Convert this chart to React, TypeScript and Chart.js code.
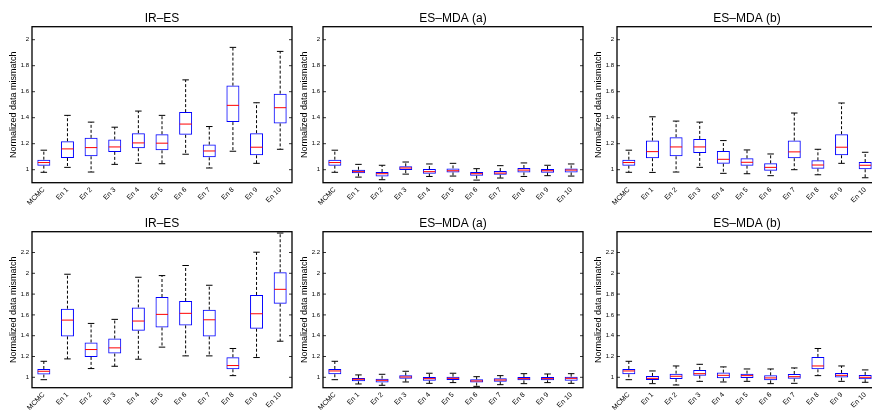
import React, { useEffect, useRef } from 'react';
import { Chart, registerables } from 'chart.js';

Chart.register(...registerables);

const categories = ['MCMC', 'En 1', 'En 2', 'En 3', 'En 4', 'En 5', 'En 6', 'En 7', 'En 8', 'En 9', 'En 10'];
const yTicksTop = [1, 1.2, 1.4, 1.6, 1.8, 2];
const yTicksBottom = [1, 1.2, 1.4, 1.6, 1.8, 2, 2.2];
const yLabel = 'Normalized data mismatch';

// each entry: [lower whisker, Q1, median, Q3, upper whisker]
const irEsTop = [
  [0.98, 1.031, 1.055, 1.077, 1.15],
  [1.018, 1.09, 1.16, 1.219, 1.418],
  [0.982, 1.103, 1.17, 1.245, 1.366],
  [1.041, 1.137, 1.175, 1.232, 1.327],
  [1.049, 1.165, 1.206, 1.281, 1.451],
  [1.046, 1.149, 1.204, 1.273, 1.418],
  [1.119, 1.268, 1.351, 1.443, 1.691],
  [1.013, 1.095, 1.144, 1.193, 1.332],
  [1.142, 1.366, 1.495, 1.647, 1.941],
  [1.049, 1.111, 1.173, 1.281, 1.515],
  [1.157, 1.356, 1.477, 1.585, 1.91],
];
const esMdaATop = [
  [0.98, 1.031, 1.055, 1.077, 1.15],
  [0.943, 0.972, 0.985, 1.0, 1.041],
  [0.923, 0.948, 0.969, 0.982, 1.034],
  [0.966, 0.997, 1.013, 1.026, 1.059],
  [0.948, 0.969, 0.985, 1.005, 1.044],
  [0.951, 0.979, 0.992, 1.01, 1.049],
  [0.92, 0.954, 0.969, 0.982, 1.008],
  [0.936, 0.961, 0.974, 0.99, 1.031],
  [0.948, 0.979, 0.997, 1.013, 1.052],
  [0.954, 0.977, 0.992, 1.005, 1.034],
  [0.951, 0.979, 0.997, 1.01, 1.044],
];
const esMdaBTop = [
  [0.98, 1.031, 1.055, 1.077, 1.15],
  [0.979, 1.088, 1.139, 1.224, 1.407],
  [0.982, 1.103, 1.175, 1.25, 1.374],
  [1.018, 1.129, 1.175, 1.237, 1.366],
  [0.972, 1.046, 1.08, 1.144, 1.224],
  [0.969, 1.031, 1.057, 1.088, 1.152],
  [0.954, 0.992, 1.018, 1.049, 1.121],
  [1.0, 1.088, 1.137, 1.224, 1.436],
  [0.961, 1.008, 1.036, 1.072, 1.157],
  [1.049, 1.111, 1.173, 1.273, 1.513],
  [0.938, 1.003, 1.034, 1.059, 1.134],
];
const irEsBottom = [
  [0.977, 1.026, 1.058, 1.08, 1.154],
  [1.177, 1.393, 1.55, 1.66, 1.991],
  [1.084, 1.196, 1.267, 1.335, 1.518],
  [1.106, 1.228, 1.283, 1.373, 1.557],
  [1.174, 1.447, 1.541, 1.672, 1.962],
  [1.29, 1.479, 1.605, 1.772, 1.978],
  [1.206, 1.499, 1.615, 1.734, 2.075],
  [1.206, 1.393, 1.553, 1.65, 1.885],
  [1.016, 1.077, 1.113, 1.193, 1.277],
  [1.19, 1.467, 1.611, 1.792, 2.203],
  [1.347, 1.708, 1.846, 2.01, 2.387],
];
const esMdaABottom = [
  [0.977, 1.029, 1.061, 1.08, 1.154],
  [0.936, 0.961, 0.981, 0.994, 1.023],
  [0.923, 0.949, 0.971, 0.987, 1.029],
  [0.955, 0.987, 1.003, 1.019, 1.058],
  [0.942, 0.968, 0.987, 1.003, 1.039],
  [0.949, 0.974, 0.99, 1.006, 1.039],
  [0.913, 0.949, 0.965, 0.981, 1.006],
  [0.929, 0.958, 0.974, 0.99, 1.016],
  [0.939, 0.971, 0.987, 1.003, 1.035],
  [0.949, 0.971, 0.987, 1.003, 1.032],
  [0.942, 0.968, 0.99, 1.006, 1.035],
];
const esMdaBBottom = [
  [0.977, 1.029, 1.061, 1.08, 1.154],
  [0.939, 0.974, 0.99, 1.013, 1.061],
  [0.926, 0.984, 1.01, 1.035, 1.109],
  [0.961, 1.016, 1.035, 1.071, 1.125],
  [0.955, 0.99, 1.019, 1.045, 1.1],
  [0.961, 0.994, 1.016, 1.035, 1.08],
  [0.939, 0.971, 0.994, 1.019, 1.08],
  [0.942, 0.987, 1.006, 1.032, 1.09],
  [1.016, 1.077, 1.109, 1.196, 1.277],
  [0.961, 0.997, 1.019, 1.042, 1.109],
  [0.952, 0.981, 1.0, 1.023, 1.071],
];

const FONT = '"Liberation Sans", Arial, Helvetica, sans-serif';
const CANVAS_W = 296;
const CANVAS_H = 205;

type Panel = {
  title: string;
  stats: number[][];
  ticks: number[];
  yMax: number;
  left: number;
  top: number;
};

const panels: Panel[] = [
  { title: 'IR\u2013ES', stats: irEsTop, ticks: yTicksTop, yMax: 2.1, left: 0, top: 0 },
  { title: 'ES\u2013MDA (a)', stats: esMdaATop, ticks: yTicksTop, yMax: 2.1, left: 291, top: 0 },
  { title: 'ES\u2013MDA (b)', stats: esMdaBTop, ticks: yTicksTop, yMax: 2.1, left: 585, top: 0 },
  { title: 'IR\u2013ES', stats: irEsBottom, ticks: yTicksBottom, yMax: 2.4, left: 0, top: 205 },
  { title: 'ES\u2013MDA (a)', stats: esMdaABottom, ticks: yTicksBottom, yMax: 2.4, left: 291, top: 205 },
  { title: 'ES\u2013MDA (b)', stats: esMdaBBottom, ticks: yTicksBottom, yMax: 2.4, left: 585, top: 205 },
];

function makeBoxPlugin(stats: number[][], ticks: number[]) {
  return {
    id: 'boxWhiskers',
    afterDatasetsDraw(chart: any) {
      const { ctx } = chart;
      const y = chart.scales.y;
      const meta = chart.getDatasetMeta(0);
      ctx.save();
      stats.forEach((s, i) => {
        const bar = meta.data[i];
        if (!bar) return;
        const { x, width } = bar.getProps(['x', 'width'], true);
        const half = width / 2;
        const capHalf = half / 2;
        const pLo = y.getPixelForValue(s[0]);
        const pQ1 = y.getPixelForValue(s[1]);
        const pMed = y.getPixelForValue(s[2]);
        const pQ3 = y.getPixelForValue(s[3]);
        const pHi = y.getPixelForValue(s[4]);
        // dashed whiskers
        ctx.strokeStyle = '#000';
        ctx.lineWidth = 1;
        ctx.setLineDash([3, 2]);
        ctx.beginPath();
        ctx.moveTo(x, pQ3);
        ctx.lineTo(x, pHi);
        ctx.moveTo(x, pQ1);
        ctx.lineTo(x, pLo);
        ctx.stroke();
        // caps
        ctx.setLineDash([]);
        ctx.beginPath();
        ctx.moveTo(x - capHalf, pHi);
        ctx.lineTo(x + capHalf, pHi);
        ctx.moveTo(x - capHalf, pLo);
        ctx.lineTo(x + capHalf, pLo);
        ctx.stroke();
        // median
        ctx.strokeStyle = '#ff0000';
        ctx.beginPath();
        ctx.moveTo(x - half + 0.5, pMed);
        ctx.lineTo(x + half - 0.5, pMed);
        ctx.stroke();
      });
      ctx.restore();
    },
    afterDraw(chart: any) {
      const { ctx, chartArea } = chart;
      const y = chart.scales.y;
      ctx.save();
      ctx.strokeStyle = '#000';
      ctx.lineWidth = 0.8;
      ctx.beginPath();
      ticks.forEach((v) => {
        const py = y.getPixelForValue(v);
        ctx.moveTo(chartArea.left, py);
        ctx.lineTo(chartArea.left + 3, py);
        ctx.moveTo(chartArea.right - 3, py);
        ctx.lineTo(chartArea.right, py);
      });
      ctx.stroke();
      ctx.lineWidth = 1.3;
      ctx.strokeRect(chartArea.left, chartArea.top, chartArea.right - chartArea.left, chartArea.bottom - chartArea.top);
      ctx.restore();
    },
  };
}

function BoxPanel({ panel }: { panel: Panel }) {
  const ref = useRef<HTMLCanvasElement | null>(null);
  useEffect(() => {
    if (!ref.current) return;
    const chart = new Chart(ref.current, {
      type: 'bar',
      data: {
        labels: categories,
        datasets: [
          {
            data: panel.stats.map((s) => [s[1], s[3]]) as any,
            backgroundColor: 'rgba(0,0,0,0)',
            borderColor: '#0000ff',
            borderWidth: 1,
            borderSkipped: false,
            barPercentage: 0.55,
            categoryPercentage: 1,
          },
        ],
      },
      options: {
        responsive: false,
        animation: false,
        events: [],
        layout: { padding: { left: 0, right: 4, top: 0, bottom: 0 } },
        plugins: {
          legend: { display: false },
          tooltip: { enabled: false },
          title: {
            display: true,
            text: panel.title,
            color: '#000',
            fullSize: false,
            font: { family: FONT, size: 12, weight: 'normal' },
            padding: { top: 11, bottom: 1.3 },
          },
        },
        scales: {
          x: {
            type: 'category',
            offset: true,
            grid: { display: false, drawTicks: false },
            border: { display: false },
            ticks: {
              autoSkip: false,
              maxRotation: 45,
              minRotation: 45,
              padding: 3,
              color: '#000',
              font: { family: FONT, size: 7 },
            },
            afterFit: (scale: any) => {
              scale.height = 22.3;
            },
          },
          y: {
            type: 'linear',
            min: 0.9,
            max: panel.yMax,
            grid: { display: false, drawTicks: false },
            border: { display: false },
            ticks: {
              padding: 3,
              color: '#000',
              font: { family: FONT, size: 6 },
              callback: (v: any) => String(v),
            },
            afterBuildTicks: (scale: any) => {
              scale.ticks = panel.ticks.map((v) => ({ value: v }));
            },
            afterFit: (scale: any) => {
              scale.width = 32;
            },
            title: {
              display: true,
              text: yLabel,
              color: '#000',
              font: { family: FONT, size: 9 },
              padding: { top: 8.2, bottom: 0 },
            },
          },
        },
      } as any,
      plugins: [makeBoxPlugin(panel.stats, panel.ticks)],
    });
    return () => chart.destroy();
  }, [panel]);
  return (
    <canvas
      ref={ref}
      width={CANVAS_W}
      height={CANVAS_H}
      style={{ position: 'absolute', left: panel.left, top: panel.top, width: CANVAS_W, height: CANVAS_H }}
    />
  );
}

export default function App() {
  return (
    <div
      style={{
        position: 'fixed',
        left: 0,
        top: 0,
        width: 872,
        height: 410,
        overflow: 'hidden',
        background: '#fff',
      }}
    >
      {panels.map((p, i) => (
        <BoxPanel key={i} panel={p} />
      ))}
    </div>
  );
}
